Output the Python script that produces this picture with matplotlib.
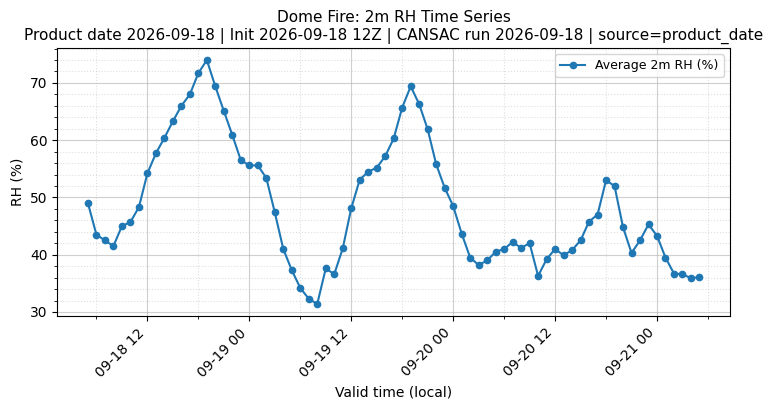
import numpy as np
import pandas as pd
import matplotlib
matplotlib.use("Agg")
from matplotlib import pyplot as plt
import matplotlib.dates as mdates

start = "2026-09-18 05:00"
rh = [49, 43.5, 42.5, 41.5, 45, 45.7, 48.3, 54.2, 57.7, 60.4, 63.3, 66, 68, 71.7, 74,
      69.4, 65.1, 60.9, 56.5, 55.6, 55.6, 53.4, 47.4, 41, 37.3, 34.2, 32.3, 31.4, 37.6,
      36.6, 41.1, 48.1, 53.1, 54.5, 55.2, 57.2, 60.3, 65.7, 69.4, 66.3, 61.9, 55.8, 51.7,
      48.5, 43.7, 39.5, 38.2, 39, 40.5, 41, 42.2, 41.2, 42, 36.3, 39.2, 41, 39.9, 40.8,
      42.5, 45.8, 47, 53, 52, 44.8, 40.3, 42.5, 45.3, 43.3, 39.5, 36.7, 36.6, 35.9, 36.1]
times = pd.date_range(start, periods=len(rh), freq="h")

fig, ax = plt.subplots(figsize=(7.75, 4.09), dpi=100)
ax.plot(times, rh, "o-", color="#1f77b4", markersize=4.5, linewidth=1.5, label="Average 2m RH (%)")

ax.xaxis.set_major_locator(mdates.HourLocator(byhour=[0, 12]))
ax.xaxis.set_minor_locator(mdates.HourLocator(byhour=[6, 18]))
ax.xaxis.set_major_formatter(mdates.DateFormatter("%m-%d %H"))
ax.yaxis.set_minor_locator(matplotlib.ticker.AutoMinorLocator(5))
plt.setp(ax.get_xticklabels(), rotation=45, ha="right")

ax.grid(True, which="major", alpha=0.6)
ax.grid(True, which="minor", linestyle=":", alpha=0.4)
ax.set_xlabel("Valid time (local)")
ax.set_ylabel("RH (%)")
ax.set_title("Dome Fire: 2m RH Time Series\nProduct date 2026-09-18 | Init 2026-09-18 12Z | CANSAC run 2026-09-18 | source=product_date",
             fontsize=11)
ax.legend(loc="upper right", fontsize=9)

fig.subplots_adjust(left=0.074, right=0.942, top=0.883, bottom=0.227)
fig.savefig("out.png")
